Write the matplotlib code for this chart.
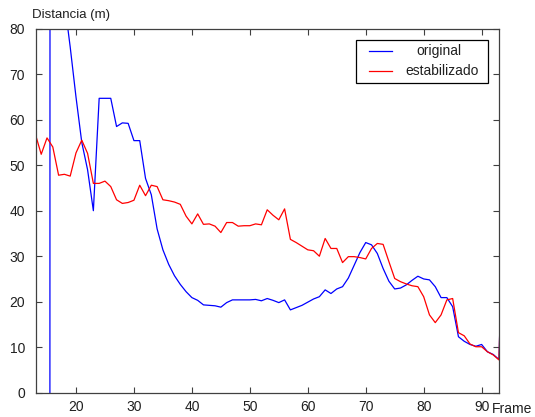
import matplotlib
matplotlib.use("Agg")
import matplotlib.pyplot as plt
from matplotlib.patches import Rectangle
from matplotlib.lines import Line2D

plt.rcParams['font.family'] = ['Liberation Sans', 'DejaVu Sans']

# Distance estimates per frame
frames_orig = list(range(15, 95))
dist_orig = [
    -3000, 3000, 300, 86, 76, 65, 55, 49, 40, 64.7,
    64.7, 64.7, 58.5, 59.3, 59.2, 55.4, 55.4, 47.1, 43.5, 36.0,
    31.4, 28.2, 25.7, 23.8, 22.2, 20.9, 20.3, 19.3, 19.2, 19.1,
    18.8, 19.8, 20.4, 20.4, 20.4, 20.4, 20.5, 20.2, 20.7, 20.3,
    19.8, 20.4, 18.2, 18.7, 19.2, 19.9, 20.6, 21.1, 22.6, 21.8,
    22.8, 23.3, 25.2, 28.0, 30.8, 33.0, 32.5, 30.6, 27.3, 24.5,
    22.8, 23.0, 23.7, 24.7, 25.6, 25.0, 24.8, 23.3, 20.9, 20.9,
    18.9, 12.3, 11.3, 10.6, 10.2, 10.6, 9.0, 8.4, 7.3, 57.0,
]

frames_stab = list(range(13, 95))
dist_stab = [
    56.8, 52.4, 56.0, 54.0, 47.8, 48.0, 47.6, 52.7, 55.5, 52.6,
    46.0, 46.0, 46.5, 45.3, 42.4, 41.6, 41.8, 42.3, 45.6, 43.3,
    45.6, 45.3, 42.4, 42.2, 41.9, 41.4, 38.8, 37.1, 39.3, 37.0,
    37.1, 36.6, 35.2, 37.4, 37.4, 36.6, 36.7, 36.7, 37.1, 36.9,
    40.2, 39.0, 38.0, 40.4, 33.7, 33.0, 32.2, 31.4, 31.2, 30.0,
    33.9, 31.7, 31.7, 28.6, 29.9, 29.9, 29.7, 29.4, 31.7, 32.8,
    32.6, 28.8, 25.1, 24.4, 23.9, 23.5, 23.3, 21.1, 17.1, 15.4,
    17.1, 20.4, 20.7, 13.2, 12.5, 10.7, 10.1, 10.1, 9.0, 8.3,
    7.2, 57.0,
]

series_labels = ['original', 'estabilizado']
x_ticks = [20, 30, 40, 50, 60, 70, 80, 90]
y_ticks = [0, 10, 20, 30, 40, 50, 60, 70, 80]

W, H = 535, 417
fig = plt.figure(figsize=(W / 100, H / 100), dpi=100)
ax = fig.add_axes([36 / W, 1 - 392.7 / H, 463.3 / W, 364 / H])

l1, = ax.plot(frames_orig, dist_orig, color='#0000ff', lw=0.9)
l2, = ax.plot(frames_stab, dist_stab, color='#ff0000', lw=0.9)

ax.set_xlim(13.1, 93.05)
ax.set_ylim(0, 80)
ax.set_xticks(x_ticks)
ax.set_yticks(y_ticks)

spine_col = '#404040'
for s in ax.spines.values():
    s.set_color(spine_col)
    s.set_linewidth(0.9)
ax.tick_params(direction='in', length=4.3, width=0.8, color=spine_col,
               top=True, right=True, labelsize=10, labelcolor='#202020')
ax.tick_params(axis='y', pad=8)
ax.tick_params(axis='x', pad=5)


# Boxed legend in the upper right corner (pixel layout, origin top-left)
def px(x, y):
    return x / W, 1 - y / H


bx0, by0, bx1, by1 = 355.7, 40.0, 488.3, 83.3
fig.add_artist(Rectangle(px(bx0, by1), (bx1 - bx0) / W, (by1 - by0) / H,
                         transform=fig.transFigure, facecolor='white',
                         edgecolor='black', linewidth=0.9, zorder=5))
rows = [(51.0, l1, 438.5), (71.0, l2, 442.0)]
for (ry, line, tx), lab in zip(rows, series_labels):
    xa, ya = px(369, ry)
    xb, _ = px(391.7, ry)
    fig.add_artist(Line2D([xa, xb], [ya, ya], transform=fig.transFigure,
                          color=line.get_color(), lw=0.9, zorder=6))
    fig.text(*px(tx, ry), lab, fontsize=10, ha='center', va='center',
             color='#202020', zorder=6)

fig.text(31.7 / W, 1 - 15 / H, 'Distancia (m)', fontsize=9.5,
         ha='left', va='center', color='#202020')
fig.text(491.7 / W, 1 - 409 / H, 'Frame', fontsize=10,
         ha='left', va='center', color='#202020')

fig.savefig('out.png', dpi=100, facecolor='white')
